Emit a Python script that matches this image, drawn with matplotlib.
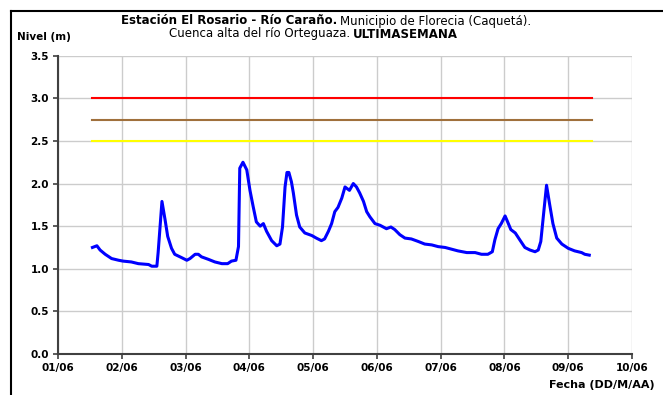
import matplotlib
matplotlib.use("Agg")
import matplotlib.pyplot as plt
from matplotlib.lines import Line2D

plt.rcParams['font.family'] = ['DejaVu Sans']

# dias desde 01/06 00:00 y nivel (m)
dias = [0.54, 0.61, 0.66, 0.74, 0.84, 0.95, 1.02, 1.15, 1.26, 1.42, 1.47, 1.55,
        1.57, 1.63, 1.68, 1.72, 1.78, 1.83, 1.94, 2.02, 2.07, 2.15, 2.20, 2.25,
        2.36, 2.46, 2.57, 2.66, 2.72, 2.79, 2.83, 2.85, 2.90, 2.96, 3.01, 3.06,
        3.11, 3.17, 3.22, 3.27, 3.35, 3.43, 3.48, 3.52, 3.56, 3.59, 3.62, 3.66,
        3.69, 3.74, 3.79, 3.87, 3.98, 4.05, 4.13, 4.18, 4.24, 4.29, 4.34, 4.39,
        4.45, 4.50, 4.57, 4.63, 4.68, 4.73, 4.79, 4.84, 4.89, 4.97, 5.05, 5.15,
        5.22, 5.28, 5.36, 5.44, 5.54, 5.65, 5.75, 5.86, 5.96, 6.07, 6.17, 6.27,
        6.41, 6.54, 6.64, 6.74, 6.81, 6.85, 6.90, 6.95, 7.01, 7.05, 7.10, 7.17,
        7.24, 7.32, 7.40, 7.48, 7.53, 7.57, 7.62, 7.66, 7.71, 7.76, 7.82, 7.90,
        8.00, 8.10, 8.21, 8.26, 8.33]
nivel = [1.25, 1.27, 1.22, 1.17, 1.12, 1.10, 1.09, 1.08, 1.06, 1.05, 1.03, 1.03,
         1.19, 1.79, 1.57, 1.38, 1.24, 1.17, 1.13, 1.10, 1.12, 1.17, 1.17, 1.14,
         1.11, 1.08, 1.06, 1.06, 1.09, 1.10, 1.26, 2.18, 2.25, 2.16, 1.92, 1.73,
         1.55, 1.50, 1.53, 1.44, 1.33, 1.27, 1.29, 1.49, 1.96, 2.13, 2.13, 2.02,
         1.89, 1.63, 1.49, 1.42, 1.39, 1.36, 1.33, 1.35, 1.44, 1.53, 1.67, 1.72,
         1.83, 1.96, 1.92, 2.00, 1.96, 1.89, 1.79, 1.67, 1.61, 1.53, 1.51, 1.47,
         1.49, 1.46, 1.40, 1.36, 1.35, 1.32, 1.29, 1.28, 1.26, 1.25, 1.23, 1.21,
         1.19, 1.19, 1.17, 1.17, 1.20, 1.34, 1.47, 1.53, 1.62, 1.55, 1.46, 1.42,
         1.34, 1.25, 1.22, 1.20, 1.22, 1.32, 1.69, 1.98, 1.75, 1.53, 1.36, 1.29,
         1.24, 1.21, 1.19, 1.17, 1.16]

# umbrales
umbral_dias = [0.53, 8.38]
umbral_rojo = 3.0
umbral_naranja = 2.75
umbral_amarillo = 2.5

fechas = ["01/06", "02/06", "03/06", "04/06", "05/06",
          "06/06", "07/06", "08/06", "09/06", "10/06"]
y_ticks = [0.0, 0.5, 1.0, 1.5, 2.0, 2.5, 3.0, 3.5]

fig = plt.figure(figsize=(6.63, 3.95), dpi=100)
ax = fig.add_axes([58/663, 1-354/395, (632-58)/663, (354-55.7)/395])

ax.plot(umbral_dias, [umbral_rojo]*2, color='#FF0000', lw=1.5)
ax.plot(umbral_dias, [umbral_naranja]*2, color='#A0703C', lw=1.5)
ax.plot(umbral_dias, [umbral_amarillo]*2, color='#FFFF00', lw=1.5)
ax.plot(dias, nivel, color='#0000FF', lw=2.2, solid_joinstyle='round')

ax.set_xlim(0, len(fechas) - 1)
ax.set_ylim(0, 3.5)
ax.set_xticks(range(len(fechas)))
ax.set_xticklabels(fechas)
ax.set_yticks(y_ticks)
ax.set_yticklabels(["%.1f" % v for v in y_ticks])
ax.grid(True, color='#CCCCCC', lw=1.0)
ax.set_axisbelow(True)
for s in ['top', 'right']:
    ax.spines[s].set_visible(False)
for s in ['left', 'bottom']:
    ax.spines[s].set_color('#404040')
    ax.spines[s].set_linewidth(1.5)
ax.tick_params(direction='out', length=3.5, width=1.2, color='#404040',
               labelsize=7.5, pad=3)
for lab in ax.get_xticklabels() + ax.get_yticklabels():
    lab.set_fontweight('bold')

# titulo con partes en negrita
fig.text(337/663, 1-21/395, "Estación El Rosario - Río Caraño.", ha='right',
         va='center', fontsize=8.5, fontweight='bold')
fig.text(340/663, 1-21/395, "Municipio de Florecia (Caquetá).", ha='left',
         va='center', fontsize=8.5)
fig.text(350/663, 1-34/395, "Cuenca alta del río Orteguaza.", ha='right',
         va='center', fontsize=8.5)
fig.text(353/663, 1-34/395, "ULTIMASEMANA", ha='left',
         va='center', fontsize=8.5, fontweight='bold')
fig.text(17/663, 1-37/395, "Nivel (m)", ha='left', va='center',
         fontsize=7.5, fontweight='bold')
fig.text(655/663, 1-385/395, "Fecha (DD/M/AA)", ha='right', va='center',
         fontsize=8, fontweight='bold')

# marco exterior
fig.add_artist(Line2D([11/663, 11/663], [0, 1-11/395], color='black', lw=1.5))
fig.add_artist(Line2D([11/663, 1], [1-11/395, 1-11/395], color='black', lw=1.5))

fig.savefig("out.png", dpi=100)
